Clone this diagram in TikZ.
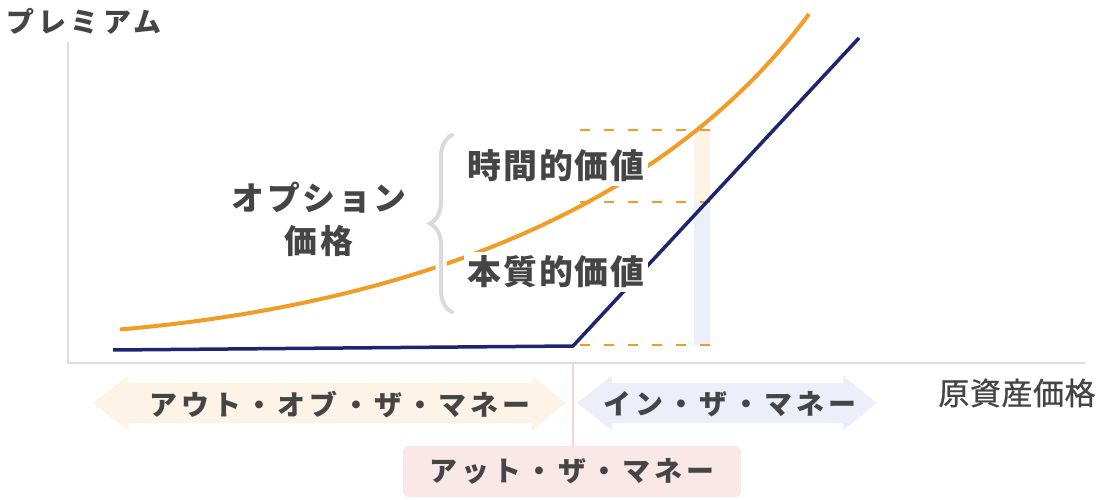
\documentclass[tikz,border=0pt]{standalone}
\usepackage{fontspec}
\setmainfont{Noto Sans CJK JP}
\usetikzlibrary{decorations.pathreplacing}
\definecolor{txt}{HTML}{454545}
\definecolor{ax}{HTML}{DDDDDD}
\definecolor{org}{HTML}{F29C25}
\definecolor{nvy}{HTML}{1E2570}
\definecolor{peach}{HTML}{FDF3E7}
\definecolor{lav}{HTML}{ECEEF9}
\definecolor{pinkbox}{HTML}{FAE8E8}
\definecolor{pinkline}{HTML}{F5D3D3}
\definecolor{brc}{HTML}{DADADA}
\begin{document}
\begin{tikzpicture}[x=0.02cm,y=-0.02cm,
  smalllbl/.style={text=txt, inner sep=0pt, font=\bfseries\fontsize{15.9pt}{18pt}\selectfont\addfontfeature{LetterSpace=15}},
  biglbl/.style={text=txt, fill=white, inner sep=0.08cm, font=\bfseries\fontsize{19.3pt}{22pt}\selectfont\addfontfeature{LetterSpace=5}},
  optlbl/.style={text=txt, inner sep=0pt, font=\bfseries\fontsize{18.7pt}{22pt}\selectfont\addfontfeature{LetterSpace=8}},
  axislbl/.style={text=txt, inner sep=0pt, font=\fontsize{17.6pt}{20pt}\selectfont\addfontfeature{LetterSpace=2,FakeBold=0.8}},
  axisline/.style={ax, line width=0.04cm},
  guide/.style={org, line width=0.04cm, dash pattern=on 0.2cm off 0.28cm},
]
\useasboundingbox (0,0) rectangle (1100,500);

% axes
\coordinate (ytop) at (68,42);
\coordinate (origin) at (68,363);
\coordinate (xend) at (1085,363);
\draw[axisline] (ytop) -- (origin) -- (xend);

% value bars
\fill[peach] (694,131) rectangle (710,202);
\fill[lav] (694,202) rectangle (710,345);

% guide dashed lines
\coordinate (g1a) at (580,130); \coordinate (g1b) at (712,130);
\coordinate (g2a) at (580,202); \coordinate (g2b) at (712,202);
\coordinate (g3a) at (580,345); \coordinate (g3b) at (712,345);
\draw[guide] (g1a) -- (g1b);
\draw[guide] (g2a) -- (g2b);
\draw[guide] (g3a) -- (g3b);

% curves
\coordinate (o0) at (120,329.5);
\coordinate (o1) at (809,14);
\draw[org, line width=0.08cm] (o0) .. controls (400,305) and (660,215) .. (o1);
\coordinate (n0) at (113,350);
\coordinate (kink) at (573,346);
\coordinate (n1) at (859,38);
\draw[nvy, line width=0.07cm] (n0) -- (kink) -- (n1);

% brace
\coordinate (bb) at (452,312);
\coordinate (bt) at (452,135);
\draw[white, line width=0.22cm, decorate, decoration={brace, amplitude=0.44cm}] (bb) -- (bt);
\draw[brc, line width=0.08cm, line cap=round, decorate, decoration={brace, amplitude=0.44cm}] (bb) -- (bt);

% labels
\node[smalllbl] (title) at (84,21) {プレミアム};
\node[biglbl] (tv) at (556,166) {時間的価値};
\node[biglbl] (iv) at (556,272) {本質的価値};
\node[optlbl] (opt1) at (319,198) {オプション};
\node[optlbl] (opt2) at (319,241) {価格};
\node[axislbl] (xlbl) at (1017,393) {原資産価格};

% moneyness arrows
\fill[peach] (93,403) -- (128,375.5) -- (128,383) -- (532,383) -- (532,375.5) -- (566,403)
  -- (532,430.5) -- (532,423) -- (128,423) -- (128,430.5) -- cycle;
\node[smalllbl] (otm) at (340,404) {アウト・オブ・ザ・マネー};
\fill[lav] (577,403) -- (612,375.5) -- (612,383) -- (843,383) -- (843,375.5) -- (877,403)
  -- (843,430.5) -- (843,423) -- (612,423) -- (612,430.5) -- cycle;
\node[smalllbl] (itm) at (730,404) {イン・ザ・マネー};

% at the money
\node[smalllbl, fill=pinkbox, rounded corners=0.1cm, minimum width=6.76cm, minimum height=1.02cm] (atm) at (572,471.5) {アット・ザ・マネー};
\coordinate (atmaxis) at (573,364);
\draw[pinkline, line width=0.04cm] (atmaxis) -- (atm.north -| atmaxis);
\end{tikzpicture}
\end{document}
